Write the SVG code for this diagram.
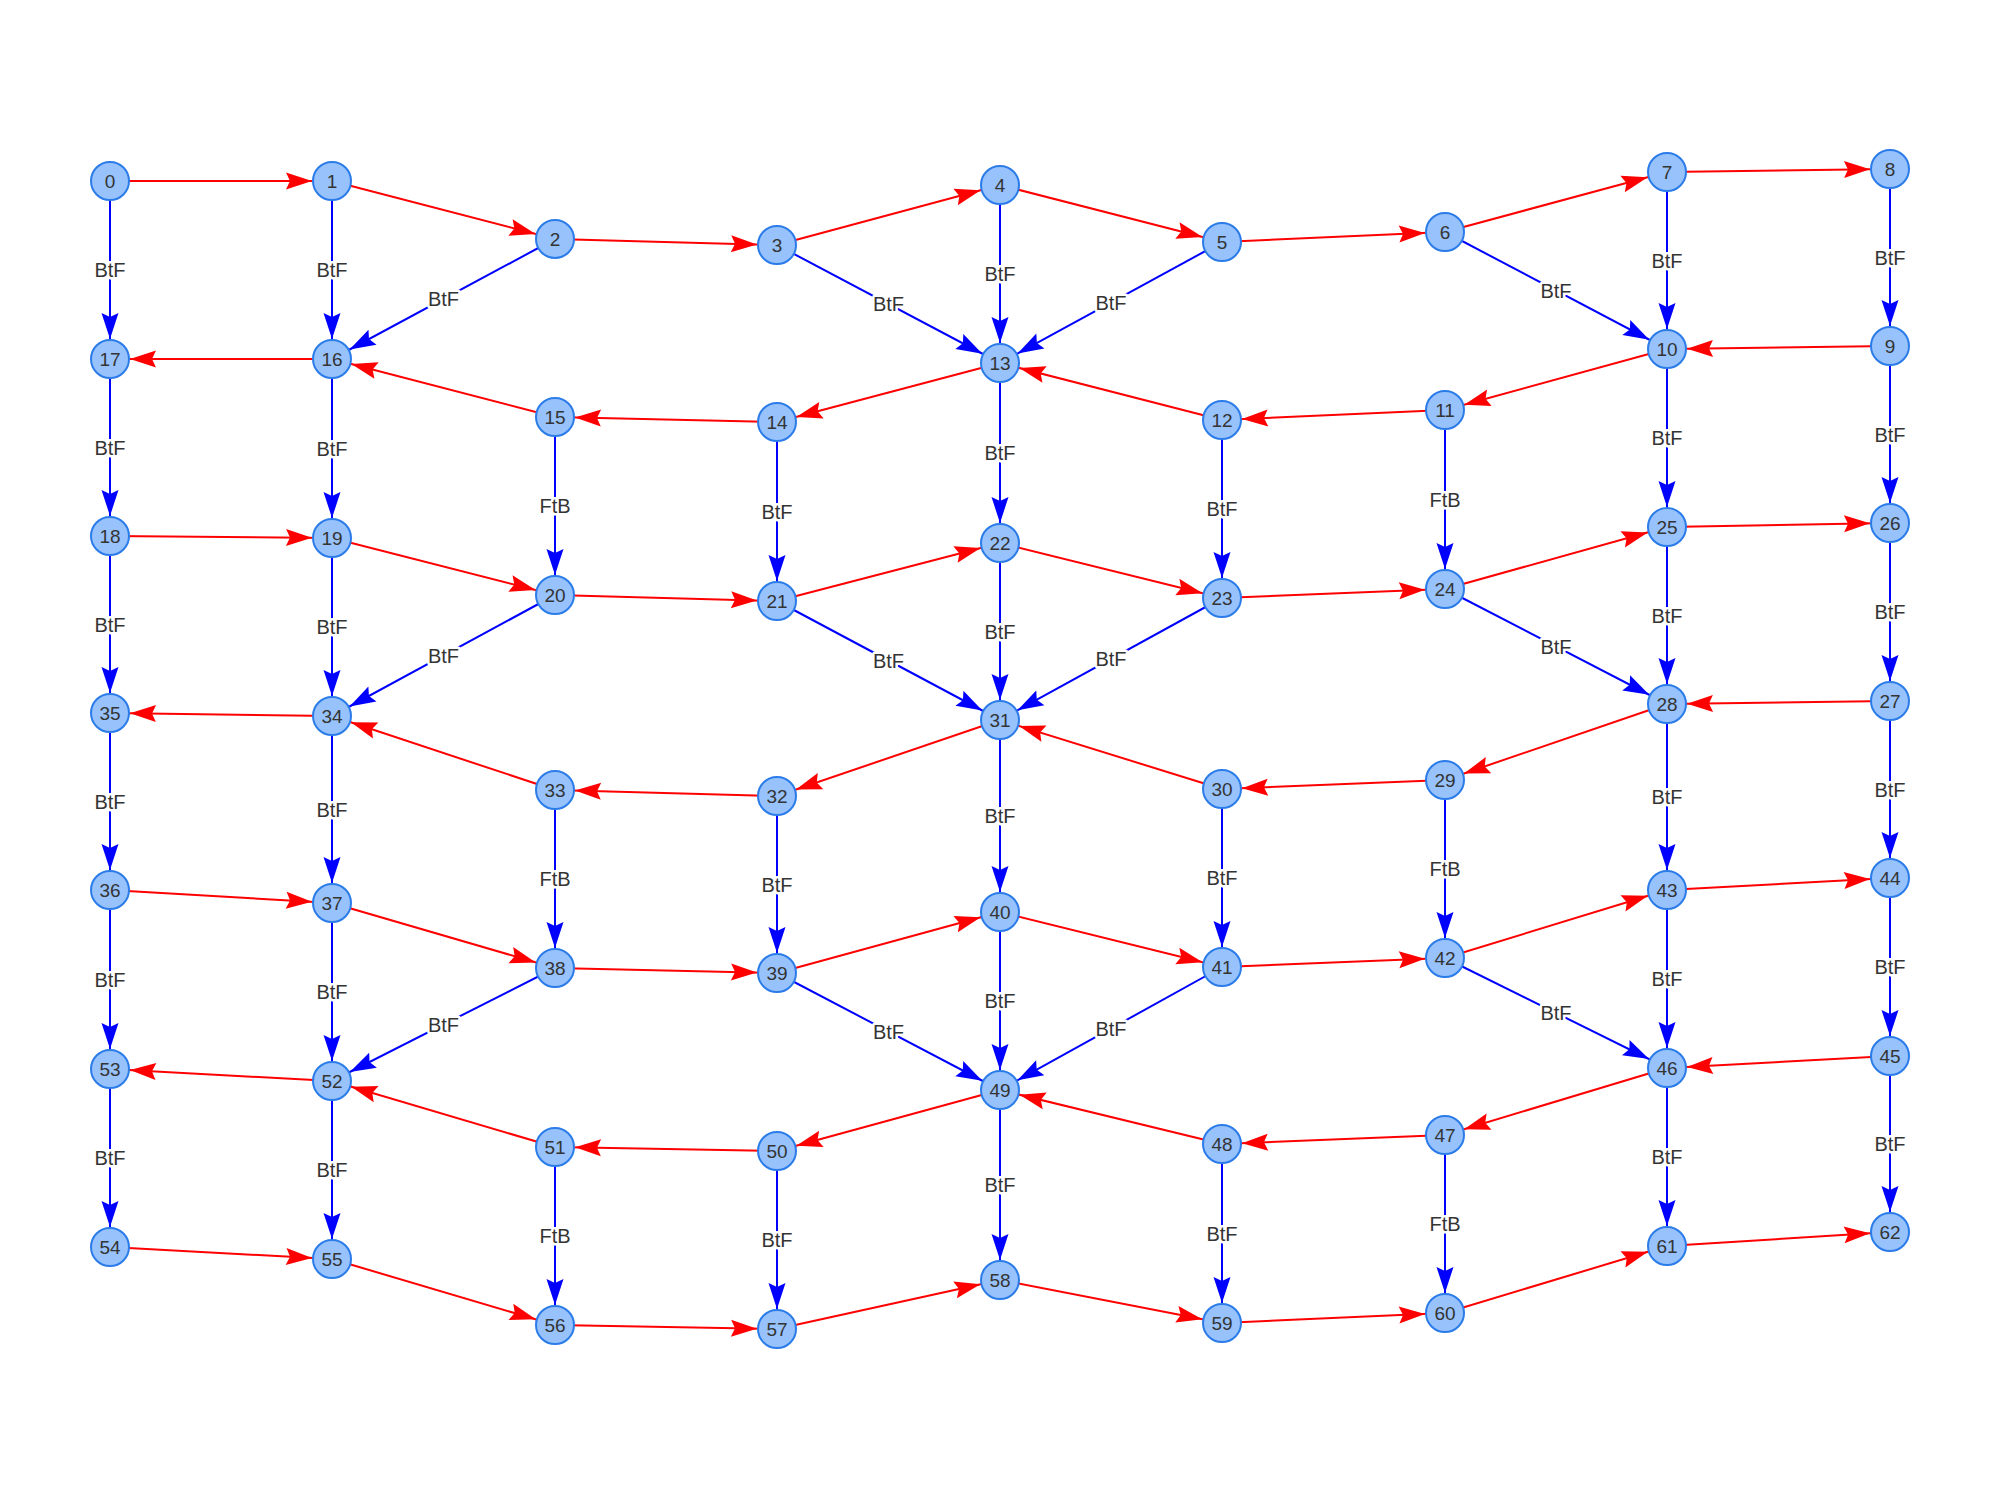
<svg xmlns="http://www.w3.org/2000/svg" width="2000" height="1500" viewBox="0 0 2000 1500">
<style>
.r{stroke:#ff0000;stroke-width:2;fill:none;marker-end:url(#ar)}
.b{stroke:#0000ff;stroke-width:2;fill:none;marker-end:url(#ab)}
.el{font-family:"Liberation Sans",Arial,sans-serif;font-size:20px;fill:#343434;stroke:#ffffff;stroke-width:5;paint-order:stroke;stroke-linejoin:round;text-anchor:middle;dominant-baseline:central}
.node circle{fill:#97c2fc;stroke:#2b7ce9;stroke-width:2}
.node text{font-family:"Liberation Sans",Arial,sans-serif;font-size:19px;fill:#343434;text-anchor:middle;dominant-baseline:central}
</style>
<defs>
<marker id="ar" markerUnits="userSpaceOnUse" viewBox="-30 -12 52 24" refX="20" refY="0" markerWidth="52" markerHeight="24" orient="auto" overflow="visible"><path d="M0,0 L-26,-8.5 L-22,0 L-26,8.5 Z" fill="#ff0000"/></marker>
<marker id="ab" markerUnits="userSpaceOnUse" viewBox="-30 -12 52 24" refX="20" refY="0" markerWidth="52" markerHeight="24" orient="auto" overflow="visible"><path d="M0,0 L-26,-8.5 L-22,0 L-26,8.5 Z" fill="#0000ff"/></marker>
</defs>
<rect width="2000" height="1500" fill="#ffffff"/>
<g id="edges">
<line class="r" x1="110" y1="181" x2="332" y2="181"/>
<line class="r" x1="332" y1="181" x2="555" y2="239"/>
<line class="r" x1="555" y1="239" x2="777" y2="245"/>
<line class="r" x1="777" y1="245" x2="1000" y2="185"/>
<line class="r" x1="1000" y1="185" x2="1222" y2="242"/>
<line class="r" x1="1222" y1="242" x2="1445" y2="232"/>
<line class="r" x1="1445" y1="232" x2="1667" y2="172"/>
<line class="r" x1="1667" y1="172" x2="1890" y2="169"/>
<line class="r" x1="1890" y1="346" x2="1667" y2="349"/>
<line class="r" x1="1667" y1="349" x2="1445" y2="410"/>
<line class="r" x1="1445" y1="410" x2="1222" y2="420"/>
<line class="r" x1="1222" y1="420" x2="1000" y2="363"/>
<line class="r" x1="1000" y1="363" x2="777" y2="422"/>
<line class="r" x1="777" y1="422" x2="555" y2="417"/>
<line class="r" x1="555" y1="417" x2="332" y2="359"/>
<line class="r" x1="332" y1="359" x2="110" y2="359"/>
<line class="r" x1="110" y1="536" x2="332" y2="538"/>
<line class="r" x1="332" y1="538" x2="555" y2="595"/>
<line class="r" x1="555" y1="595" x2="777" y2="601"/>
<line class="r" x1="777" y1="601" x2="1000" y2="543"/>
<line class="r" x1="1000" y1="543" x2="1222" y2="598"/>
<line class="r" x1="1222" y1="598" x2="1445" y2="589"/>
<line class="r" x1="1445" y1="589" x2="1667" y2="527"/>
<line class="r" x1="1667" y1="527" x2="1890" y2="523"/>
<line class="r" x1="1890" y1="701" x2="1667" y2="704"/>
<line class="r" x1="1667" y1="704" x2="1445" y2="780"/>
<line class="r" x1="1445" y1="780" x2="1222" y2="789"/>
<line class="r" x1="1222" y1="789" x2="1000" y2="720"/>
<line class="r" x1="1000" y1="720" x2="777" y2="796"/>
<line class="r" x1="777" y1="796" x2="555" y2="790"/>
<line class="r" x1="555" y1="790" x2="332" y2="716"/>
<line class="r" x1="332" y1="716" x2="110" y2="713"/>
<line class="r" x1="110" y1="890" x2="332" y2="903"/>
<line class="r" x1="332" y1="903" x2="555" y2="968"/>
<line class="r" x1="555" y1="968" x2="777" y2="973"/>
<line class="r" x1="777" y1="973" x2="1000" y2="912"/>
<line class="r" x1="1000" y1="912" x2="1222" y2="967"/>
<line class="r" x1="1222" y1="967" x2="1445" y2="958"/>
<line class="r" x1="1445" y1="958" x2="1667" y2="890"/>
<line class="r" x1="1667" y1="890" x2="1890" y2="878"/>
<line class="r" x1="1890" y1="1056" x2="1667" y2="1068"/>
<line class="r" x1="1667" y1="1068" x2="1445" y2="1135"/>
<line class="r" x1="1445" y1="1135" x2="1222" y2="1144"/>
<line class="r" x1="1222" y1="1144" x2="1000" y2="1090"/>
<line class="r" x1="1000" y1="1090" x2="777" y2="1151"/>
<line class="r" x1="777" y1="1151" x2="555" y2="1147"/>
<line class="r" x1="555" y1="1147" x2="332" y2="1081"/>
<line class="r" x1="332" y1="1081" x2="110" y2="1069"/>
<line class="r" x1="110" y1="1247" x2="332" y2="1259"/>
<line class="r" x1="332" y1="1259" x2="555" y2="1325"/>
<line class="r" x1="555" y1="1325" x2="777" y2="1329"/>
<line class="r" x1="777" y1="1329" x2="1000" y2="1280"/>
<line class="r" x1="1000" y1="1280" x2="1222" y2="1323"/>
<line class="r" x1="1222" y1="1323" x2="1445" y2="1313"/>
<line class="r" x1="1445" y1="1313" x2="1667" y2="1246"/>
<line class="r" x1="1667" y1="1246" x2="1890" y2="1232"/>

<line class="b" x1="110" y1="181" x2="110" y2="359"/>
<line class="b" x1="332" y1="181" x2="332" y2="359"/>
<line class="b" x1="555" y1="239" x2="332" y2="359"/>
<line class="b" x1="777" y1="245" x2="1000" y2="363"/>
<line class="b" x1="1000" y1="185" x2="1000" y2="363"/>
<line class="b" x1="1222" y1="242" x2="1000" y2="363"/>
<line class="b" x1="1445" y1="232" x2="1667" y2="349"/>
<line class="b" x1="1667" y1="172" x2="1667" y2="349"/>
<line class="b" x1="1890" y1="169" x2="1890" y2="346"/>
<line class="b" x1="110" y1="359" x2="110" y2="536"/>
<line class="b" x1="332" y1="359" x2="332" y2="538"/>
<line class="b" x1="555" y1="417" x2="555" y2="595"/>
<line class="b" x1="777" y1="422" x2="777" y2="601"/>
<line class="b" x1="1000" y1="363" x2="1000" y2="543"/>
<line class="b" x1="1222" y1="420" x2="1222" y2="598"/>
<line class="b" x1="1445" y1="410" x2="1445" y2="589"/>
<line class="b" x1="1667" y1="349" x2="1667" y2="527"/>
<line class="b" x1="1890" y1="346" x2="1890" y2="523"/>
<line class="b" x1="110" y1="536" x2="110" y2="713"/>
<line class="b" x1="332" y1="538" x2="332" y2="716"/>
<line class="b" x1="555" y1="595" x2="332" y2="716"/>
<line class="b" x1="777" y1="601" x2="1000" y2="720"/>
<line class="b" x1="1000" y1="543" x2="1000" y2="720"/>
<line class="b" x1="1222" y1="598" x2="1000" y2="720"/>
<line class="b" x1="1445" y1="589" x2="1667" y2="704"/>
<line class="b" x1="1667" y1="527" x2="1667" y2="704"/>
<line class="b" x1="1890" y1="523" x2="1890" y2="701"/>
<line class="b" x1="110" y1="713" x2="110" y2="890"/>
<line class="b" x1="332" y1="716" x2="332" y2="903"/>
<line class="b" x1="555" y1="790" x2="555" y2="968"/>
<line class="b" x1="777" y1="796" x2="777" y2="973"/>
<line class="b" x1="1000" y1="720" x2="1000" y2="912"/>
<line class="b" x1="1222" y1="789" x2="1222" y2="967"/>
<line class="b" x1="1445" y1="780" x2="1445" y2="958"/>
<line class="b" x1="1667" y1="704" x2="1667" y2="890"/>
<line class="b" x1="1890" y1="701" x2="1890" y2="878"/>
<line class="b" x1="110" y1="890" x2="110" y2="1069"/>
<line class="b" x1="332" y1="903" x2="332" y2="1081"/>
<line class="b" x1="555" y1="968" x2="332" y2="1081"/>
<line class="b" x1="777" y1="973" x2="1000" y2="1090"/>
<line class="b" x1="1000" y1="912" x2="1000" y2="1090"/>
<line class="b" x1="1222" y1="967" x2="1000" y2="1090"/>
<line class="b" x1="1445" y1="958" x2="1667" y2="1068"/>
<line class="b" x1="1667" y1="890" x2="1667" y2="1068"/>
<line class="b" x1="1890" y1="878" x2="1890" y2="1056"/>
<line class="b" x1="110" y1="1069" x2="110" y2="1247"/>
<line class="b" x1="332" y1="1081" x2="332" y2="1259"/>
<line class="b" x1="555" y1="1147" x2="555" y2="1325"/>
<line class="b" x1="777" y1="1151" x2="777" y2="1329"/>
<line class="b" x1="1000" y1="1090" x2="1000" y2="1280"/>
<line class="b" x1="1222" y1="1144" x2="1222" y2="1323"/>
<line class="b" x1="1445" y1="1135" x2="1445" y2="1313"/>
<line class="b" x1="1667" y1="1068" x2="1667" y2="1246"/>
<line class="b" x1="1890" y1="1056" x2="1890" y2="1232"/>

<text class="el" x="110" y="270">BtF</text>
<text class="el" x="332" y="270">BtF</text>
<text class="el" x="443.5" y="299">BtF</text>
<text class="el" x="888.5" y="304">BtF</text>
<text class="el" x="1000" y="274">BtF</text>
<text class="el" x="1111" y="302.5">BtF</text>
<text class="el" x="1556" y="290.5">BtF</text>
<text class="el" x="1667" y="260.5">BtF</text>
<text class="el" x="1890" y="257.5">BtF</text>
<text class="el" x="110" y="447.5">BtF</text>
<text class="el" x="332" y="448.5">BtF</text>
<text class="el" x="555" y="506">FtB</text>
<text class="el" x="777" y="511.5">BtF</text>
<text class="el" x="1000" y="453">BtF</text>
<text class="el" x="1222" y="509">BtF</text>
<text class="el" x="1445" y="499.5">FtB</text>
<text class="el" x="1667" y="438">BtF</text>
<text class="el" x="1890" y="434.5">BtF</text>
<text class="el" x="110" y="624.5">BtF</text>
<text class="el" x="332" y="627">BtF</text>
<text class="el" x="443.5" y="655.5">BtF</text>
<text class="el" x="888.5" y="660.5">BtF</text>
<text class="el" x="1000" y="631.5">BtF</text>
<text class="el" x="1111" y="659">BtF</text>
<text class="el" x="1556" y="646.5">BtF</text>
<text class="el" x="1667" y="615.5">BtF</text>
<text class="el" x="1890" y="612">BtF</text>
<text class="el" x="110" y="801.5">BtF</text>
<text class="el" x="332" y="809.5">BtF</text>
<text class="el" x="555" y="879">FtB</text>
<text class="el" x="777" y="884.5">BtF</text>
<text class="el" x="1000" y="816">BtF</text>
<text class="el" x="1222" y="878">BtF</text>
<text class="el" x="1445" y="869">FtB</text>
<text class="el" x="1667" y="797">BtF</text>
<text class="el" x="1890" y="789.5">BtF</text>
<text class="el" x="110" y="979.5">BtF</text>
<text class="el" x="332" y="992">BtF</text>
<text class="el" x="443.5" y="1024.5">BtF</text>
<text class="el" x="888.5" y="1031.5">BtF</text>
<text class="el" x="1000" y="1001">BtF</text>
<text class="el" x="1111" y="1028.5">BtF</text>
<text class="el" x="1556" y="1013">BtF</text>
<text class="el" x="1667" y="979">BtF</text>
<text class="el" x="1890" y="967">BtF</text>
<text class="el" x="110" y="1158">BtF</text>
<text class="el" x="332" y="1170">BtF</text>
<text class="el" x="555" y="1236">FtB</text>
<text class="el" x="777" y="1240">BtF</text>
<text class="el" x="1000" y="1185">BtF</text>
<text class="el" x="1222" y="1233.5">BtF</text>
<text class="el" x="1445" y="1224">FtB</text>
<text class="el" x="1667" y="1157">BtF</text>
<text class="el" x="1890" y="1144">BtF</text>
</g>
<g id="nodes">
<g id="n0" class="node"><circle cx="110" cy="181" r="19"/><text x="110" y="181">0</text></g>
<g id="n1" class="node"><circle cx="332" cy="181" r="19"/><text x="332" y="181">1</text></g>
<g id="n2" class="node"><circle cx="555" cy="239" r="19"/><text x="555" y="239">2</text></g>
<g id="n3" class="node"><circle cx="777" cy="245" r="19"/><text x="777" y="245">3</text></g>
<g id="n4" class="node"><circle cx="1000" cy="185" r="19"/><text x="1000" y="185">4</text></g>
<g id="n5" class="node"><circle cx="1222" cy="242" r="19"/><text x="1222" y="242">5</text></g>
<g id="n6" class="node"><circle cx="1445" cy="232" r="19"/><text x="1445" y="232">6</text></g>
<g id="n7" class="node"><circle cx="1667" cy="172" r="19"/><text x="1667" y="172">7</text></g>
<g id="n8" class="node"><circle cx="1890" cy="169" r="19"/><text x="1890" y="169">8</text></g>
<g id="n9" class="node"><circle cx="1890" cy="346" r="19"/><text x="1890" y="346">9</text></g>
<g id="n10" class="node"><circle cx="1667" cy="349" r="19"/><text x="1667" y="349">10</text></g>
<g id="n11" class="node"><circle cx="1445" cy="410" r="19"/><text x="1445" y="410">11</text></g>
<g id="n12" class="node"><circle cx="1222" cy="420" r="19"/><text x="1222" y="420">12</text></g>
<g id="n13" class="node"><circle cx="1000" cy="363" r="19"/><text x="1000" y="363">13</text></g>
<g id="n14" class="node"><circle cx="777" cy="422" r="19"/><text x="777" y="422">14</text></g>
<g id="n15" class="node"><circle cx="555" cy="417" r="19"/><text x="555" y="417">15</text></g>
<g id="n16" class="node"><circle cx="332" cy="359" r="19"/><text x="332" y="359">16</text></g>
<g id="n17" class="node"><circle cx="110" cy="359" r="19"/><text x="110" y="359">17</text></g>
<g id="n18" class="node"><circle cx="110" cy="536" r="19"/><text x="110" y="536">18</text></g>
<g id="n19" class="node"><circle cx="332" cy="538" r="19"/><text x="332" y="538">19</text></g>
<g id="n20" class="node"><circle cx="555" cy="595" r="19"/><text x="555" y="595">20</text></g>
<g id="n21" class="node"><circle cx="777" cy="601" r="19"/><text x="777" y="601">21</text></g>
<g id="n22" class="node"><circle cx="1000" cy="543" r="19"/><text x="1000" y="543">22</text></g>
<g id="n23" class="node"><circle cx="1222" cy="598" r="19"/><text x="1222" y="598">23</text></g>
<g id="n24" class="node"><circle cx="1445" cy="589" r="19"/><text x="1445" y="589">24</text></g>
<g id="n25" class="node"><circle cx="1667" cy="527" r="19"/><text x="1667" y="527">25</text></g>
<g id="n26" class="node"><circle cx="1890" cy="523" r="19"/><text x="1890" y="523">26</text></g>
<g id="n27" class="node"><circle cx="1890" cy="701" r="19"/><text x="1890" y="701">27</text></g>
<g id="n28" class="node"><circle cx="1667" cy="704" r="19"/><text x="1667" y="704">28</text></g>
<g id="n29" class="node"><circle cx="1445" cy="780" r="19"/><text x="1445" y="780">29</text></g>
<g id="n30" class="node"><circle cx="1222" cy="789" r="19"/><text x="1222" y="789">30</text></g>
<g id="n31" class="node"><circle cx="1000" cy="720" r="19"/><text x="1000" y="720">31</text></g>
<g id="n32" class="node"><circle cx="777" cy="796" r="19"/><text x="777" y="796">32</text></g>
<g id="n33" class="node"><circle cx="555" cy="790" r="19"/><text x="555" y="790">33</text></g>
<g id="n34" class="node"><circle cx="332" cy="716" r="19"/><text x="332" y="716">34</text></g>
<g id="n35" class="node"><circle cx="110" cy="713" r="19"/><text x="110" y="713">35</text></g>
<g id="n36" class="node"><circle cx="110" cy="890" r="19"/><text x="110" y="890">36</text></g>
<g id="n37" class="node"><circle cx="332" cy="903" r="19"/><text x="332" y="903">37</text></g>
<g id="n38" class="node"><circle cx="555" cy="968" r="19"/><text x="555" y="968">38</text></g>
<g id="n39" class="node"><circle cx="777" cy="973" r="19"/><text x="777" y="973">39</text></g>
<g id="n40" class="node"><circle cx="1000" cy="912" r="19"/><text x="1000" y="912">40</text></g>
<g id="n41" class="node"><circle cx="1222" cy="967" r="19"/><text x="1222" y="967">41</text></g>
<g id="n42" class="node"><circle cx="1445" cy="958" r="19"/><text x="1445" y="958">42</text></g>
<g id="n43" class="node"><circle cx="1667" cy="890" r="19"/><text x="1667" y="890">43</text></g>
<g id="n44" class="node"><circle cx="1890" cy="878" r="19"/><text x="1890" y="878">44</text></g>
<g id="n45" class="node"><circle cx="1890" cy="1056" r="19"/><text x="1890" y="1056">45</text></g>
<g id="n46" class="node"><circle cx="1667" cy="1068" r="19"/><text x="1667" y="1068">46</text></g>
<g id="n47" class="node"><circle cx="1445" cy="1135" r="19"/><text x="1445" y="1135">47</text></g>
<g id="n48" class="node"><circle cx="1222" cy="1144" r="19"/><text x="1222" y="1144">48</text></g>
<g id="n49" class="node"><circle cx="1000" cy="1090" r="19"/><text x="1000" y="1090">49</text></g>
<g id="n50" class="node"><circle cx="777" cy="1151" r="19"/><text x="777" y="1151">50</text></g>
<g id="n51" class="node"><circle cx="555" cy="1147" r="19"/><text x="555" y="1147">51</text></g>
<g id="n52" class="node"><circle cx="332" cy="1081" r="19"/><text x="332" y="1081">52</text></g>
<g id="n53" class="node"><circle cx="110" cy="1069" r="19"/><text x="110" y="1069">53</text></g>
<g id="n54" class="node"><circle cx="110" cy="1247" r="19"/><text x="110" y="1247">54</text></g>
<g id="n55" class="node"><circle cx="332" cy="1259" r="19"/><text x="332" y="1259">55</text></g>
<g id="n56" class="node"><circle cx="555" cy="1325" r="19"/><text x="555" y="1325">56</text></g>
<g id="n57" class="node"><circle cx="777" cy="1329" r="19"/><text x="777" y="1329">57</text></g>
<g id="n58" class="node"><circle cx="1000" cy="1280" r="19"/><text x="1000" y="1280">58</text></g>
<g id="n59" class="node"><circle cx="1222" cy="1323" r="19"/><text x="1222" y="1323">59</text></g>
<g id="n60" class="node"><circle cx="1445" cy="1313" r="19"/><text x="1445" y="1313">60</text></g>
<g id="n61" class="node"><circle cx="1667" cy="1246" r="19"/><text x="1667" y="1246">61</text></g>
<g id="n62" class="node"><circle cx="1890" cy="1232" r="19"/><text x="1890" y="1232">62</text></g>
</g>
</svg>
